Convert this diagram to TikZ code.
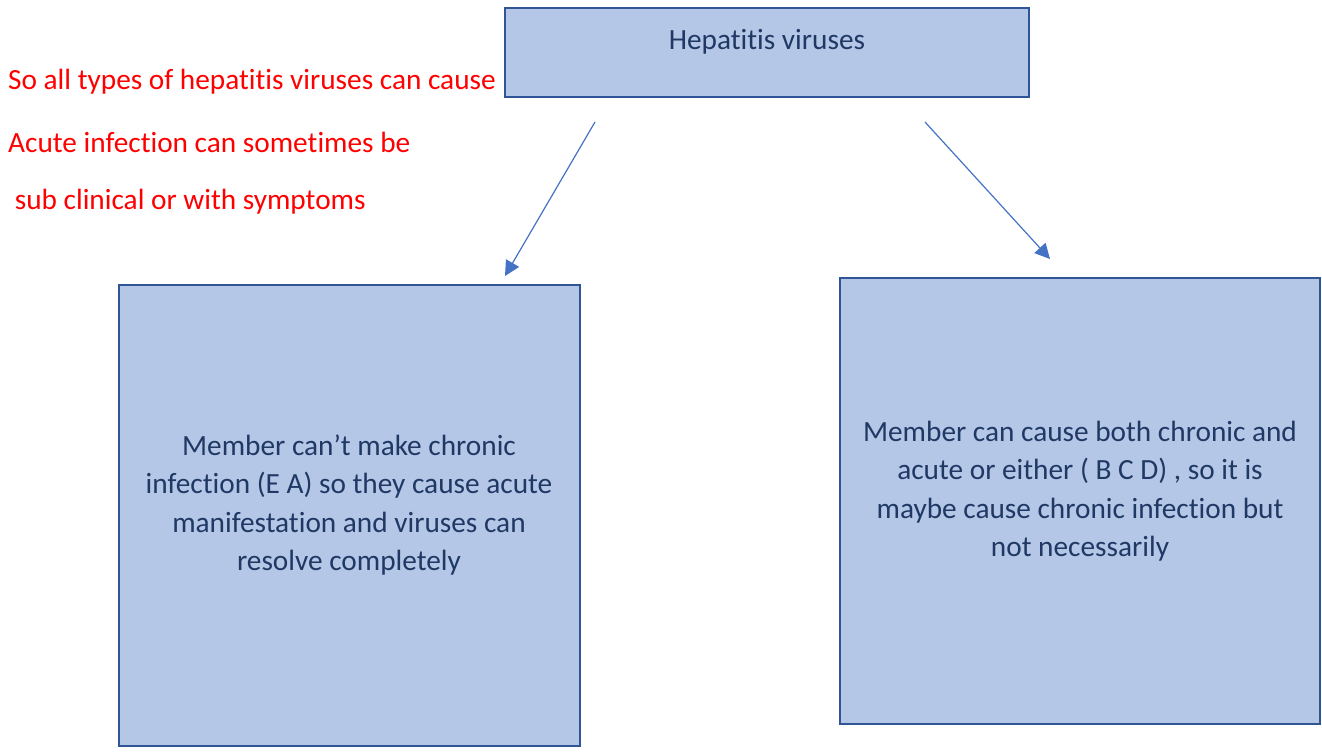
\documentclass[tikz,border=0pt]{standalone}
\usepackage{fontspec}
\setmainfont[Ligatures={NoCommon}]{Carlito}
\usetikzlibrary{arrows.meta}
\definecolor{boxfill}{HTML}{B4C7E7}
\definecolor{boxline}{HTML}{2F5597}
\definecolor{boxtext}{HTML}{203864}
\definecolor{arrowc}{HTML}{4472C4}
\definecolor{redtext}{HTML}{FF0000}
\tikzset{
  boxnode/.style={draw=boxline, line width=2.4pt, fill=boxfill, text=boxtext, inner sep=0pt},
  boxtxt/.style={text=boxtext, align=center, font=\fontsize{29.3}{38.5}\selectfont},
  redtxt/.style={text=redtext, anchor=west, font=\fontsize{29.3}{34}\selectfont, inner sep=0pt},
  conn/.style={draw=arrowc, line width=1.2pt, -{Triangle[length=15pt,width=15pt]}}
}
\begin{document}
\begin{tikzpicture}[x=1pt,y=-1pt]
\useasboundingbox (0,0) rectangle (1322,755);
% boxes
\draw[boxnode] (505,8) rectangle (1029,97);
\node[boxtxt] (top) at (767,42) {Hepatitis viruses};
\draw[boxnode] (119,285) rectangle (580,746);
\node[boxtxt] (left) at (349,505) {Member can’t make chronic\\infection (E A) so they cause acute\\manifestation and viruses can\\resolve completely};
\draw[boxnode] (840,278) rectangle (1320,724);
\node[boxtxt] (right) at (1080,491) {Member can cause both chronic and\\acute or either ( B C D) , so it is\\maybe cause chronic infection but\\not necessarily};
% red notes
\node[redtxt] (r1) at (8,82) {So all types of hepatitis viruses can cause};
\node[redtxt] (r2) at (8,142) {Acute infection can sometimes be};
\node[redtxt] (r3) at (8,202) {\ sub clinical or with symptoms};
% connectors
\coordinate (a1s) at (595,122);
\coordinate (a1e) at (505,276);
\coordinate (a2s) at (925,122);
\coordinate (a2e) at (1050,259);
\draw[conn] (a1s) -- (a1e);
\draw[conn] (a2s) -- (a2e);
\end{tikzpicture}
\end{document}
